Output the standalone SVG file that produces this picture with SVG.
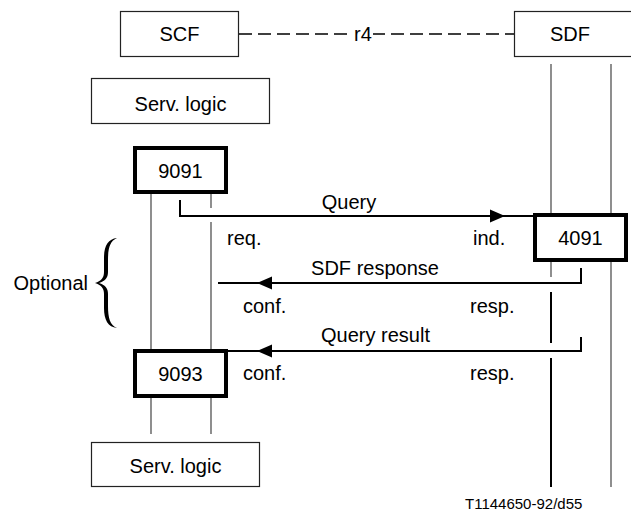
<svg xmlns="http://www.w3.org/2000/svg" width="631" height="513" viewBox="0 0 631 513">
<style>
text{font-family:"Liberation Sans",Arial,sans-serif;font-size:20px;fill:#000}
.c{text-anchor:middle}
.box{fill:#fff;stroke:#222;stroke-width:1.2}
.tbox{fill:#fff;stroke:#000;stroke-width:4}
.life{stroke:#444;stroke-width:1.2;fill:none}
.msg{stroke:#000;stroke-width:2;fill:none}
.ah{fill:#000}
</style>
<rect width="631" height="513" fill="#fff"/>
<g id="connectors">
<line x1="239" y1="34" x2="514" y2="34" stroke="#000" stroke-width="1.6" stroke-dasharray="13,6"/>
<rect x="353" y="24" width="20" height="20" fill="#fff"/>
<line class="life" x1="151" y1="194" x2="151" y2="349"/>
<line class="life" x1="211" y1="194" x2="211" y2="208"/>
<line class="life" x1="211" y1="222" x2="211" y2="349"/>
<line class="life" x1="151" y1="398" x2="151" y2="434"/>
<line class="life" x1="211" y1="398" x2="211" y2="434"/>
<line class="life" x1="551" y1="64" x2="551" y2="213"/>
<line class="life" x1="611" y1="64" x2="611" y2="213"/>
<line class="life" x1="611" y1="262" x2="611" y2="487"/>
<line class="life" x1="551" y1="262" x2="551" y2="277"/>
<line x1="551" y1="292" x2="551" y2="343" stroke="#000" stroke-width="2"/>
<line x1="551" y1="358" x2="551" y2="487" stroke="#000" stroke-width="2"/>
<path class="msg" d="M180,200 V216 H533"/>
<polygon class="ah" points="505,216 490,209.5 490,222.5"/>
<path class="msg" d="M581,268 V283 H218"/>
<polygon class="ah" points="257,283 272,276.5 272,289.5"/>
<path class="msg" d="M581,337 V351 H228"/>
<polygon class="ah" points="257,351 272,344.5 272,357.5"/>
</g>
<g id="scf"><rect class="box" x="120.5" y="11.5" width="118" height="45"/><text class="c" x="179.5" y="41">SCF</text></g>
<g id="sdf"><rect class="box" x="514.5" y="11.5" width="130" height="45"/><text class="c" x="570" y="41">SDF</text></g>
<g id="r4"><text class="c" x="363" y="41">r4</text></g>
<g id="servlogic-top"><rect class="box" x="91.5" y="78.5" width="178" height="45"/><text class="c" x="180.5" y="111">Serv. logic</text></g>
<g id="n9091"><rect class="tbox" x="135" y="148" width="91" height="44"/><text class="c" x="180.5" y="178">9091</text></g>
<g id="n4091"><rect class="tbox" x="535" y="215" width="91" height="45"/><text class="c" x="580.5" y="245">4091</text></g>
<g id="n9093"><rect class="tbox" x="135" y="351" width="91" height="45"/><text class="c" x="180.5" y="381">9093</text></g>
<g id="servlogic-bottom"><rect class="box" x="91.5" y="442.5" width="168" height="44"/><text class="c" x="175.5" y="473">Serv. logic</text></g>
<g id="labels">
<text class="c" x="349" y="209">Query</text>
<text x="227" y="245">req.</text>
<text x="473" y="245">ind.</text>
<text class="c" x="375" y="275">SDF response</text>
<text x="243" y="313">conf.</text>
<text x="470" y="313">resp.</text>
<text class="c" x="375.5" y="342">Query result</text>
<text x="243" y="380">conf.</text>
<text x="470" y="380">resp.</text>
</g>
<g id="optional">
<text x="88" y="290" text-anchor="end">Optional</text>
<path d="M117,238 C108,239 104,246 104,258 L104,272 C104,278 101,281 95,283 C101,285 104,288 104,294 L104,308 C104,320 108,327 117,328 C110,325 108,318 108,306 L108,294 C108,288 105,285 99,283 C105,281 108,278 108,272 L108,260 C108,248 110,241 117,238 Z" fill="#000"/>
</g>
<text x="465" y="509" style="font-size:15px">T1144650-92/d55</text>
</svg>
